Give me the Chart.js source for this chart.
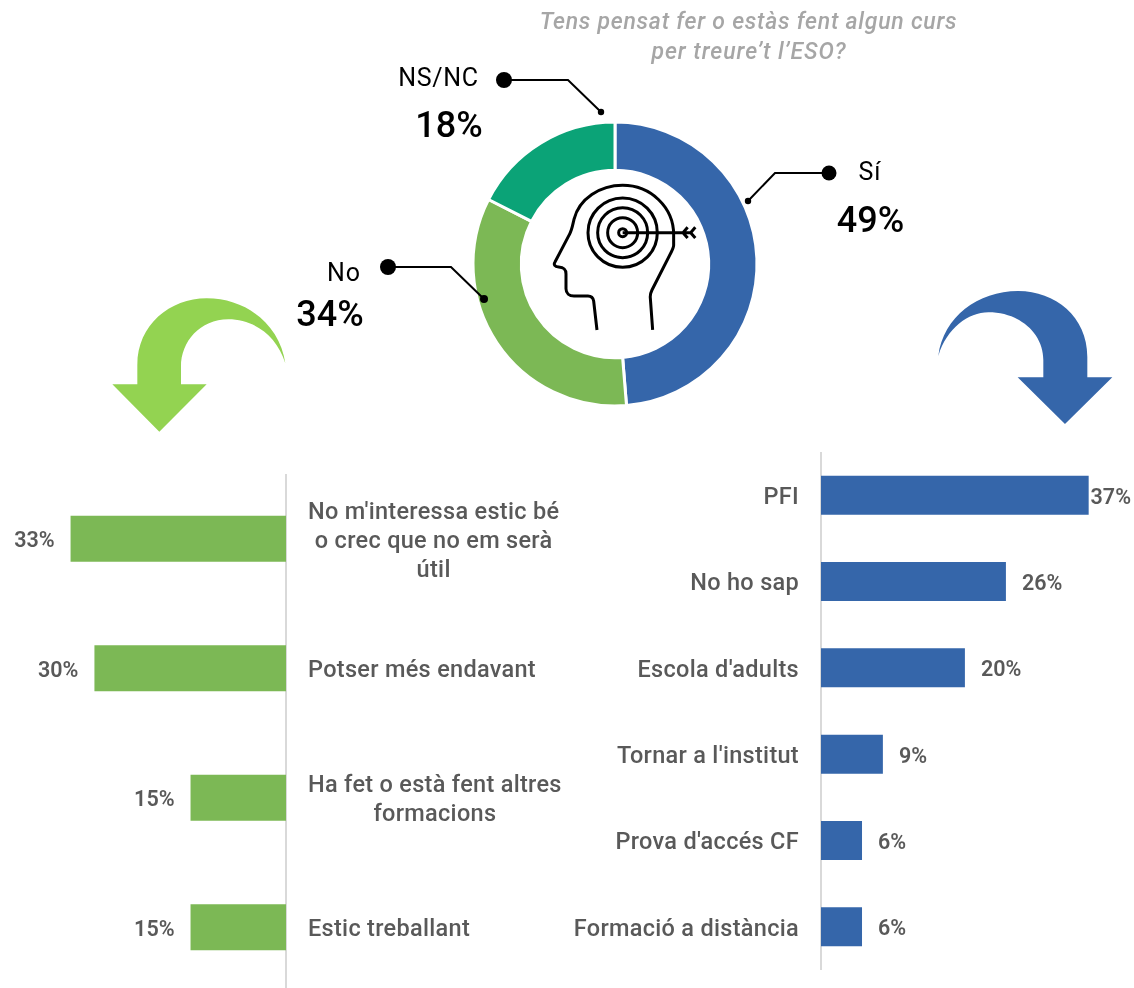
<!DOCTYPE html>
<html>
<head>
<meta charset="utf-8">
<script src="https://cdn.jsdelivr.net/npm/chart.js@4"></script>
<style>
html,body{margin:0;padding:0;background:#fff;overflow:hidden;width:1134px;height:988px}
#page{position:relative;width:1134px;height:988px;overflow:hidden}
.box{position:absolute}
canvas{display:block}
svg{position:absolute;left:0;top:0}
svg text{font-family:Roboto,sans-serif}
</style>
</head>
<body>
<div id="page">
  <div class="box" style="left:455px;top:104px;width:320px;height:320px"><canvas id="donut"></canvas></div>
  <div class="box" style="left:-2px;top:474px;width:590px;height:518px"><canvas id="left"></canvas></div>
  <div class="box" style="left:560px;top:452px;width:574px;height:518px"><canvas id="right"></canvas></div>
  <svg id="ov" width="1134" height="988" xmlns="http://www.w3.org/2000/svg">
    <path fill="#93d351" transform="translate(100,285) scale(.3333)" d="M178 440 L37 298 L112 298 L112 240 C112 120 210 40 320 40 C440 40 540 120 556 235 C530 150 460 103 385 103 C300 103 243 170 243 245 L243 298 L320 298 Z"/>
    <path fill="#3566aa" transform="translate(925,280) scale(.3333)" d="M420 432 L562 292 L487 292 L487 230 C487 110 390 33 280 33 C160 33 55 110 40 228 C65 145 130 97 190 97 C285 97 355 160 355 240 L355 292 L278 292 Z"/>
    <g transform="translate(460,100) scale(.3333)" fill="none" stroke="#000" stroke-width="9" stroke-linejoin="round">
      <path d="M411 690 L401 603 C399 592 392 588 384 588 L342 588 C328 588 318 580 318 566 L318 522 C318 506 310 502 296 501 C284 500 280 494 285 486 L328 404 C336 390 338 375 342 358 C358 296 420 256 488 256 C572 256 641 322 641 404 L641 436 C641 442 638 448 634 456 L576 570 C572 578 570 584 571 594 L578 690"/>
      <circle cx="488" cy="398" r="104"/>
      <circle cx="488" cy="398" r="75"/>
      <circle cx="488" cy="398" r="45"/>
      <circle cx="488" cy="398" r="12"/>
      <path d="M488 398 L696 398 M683 382 L669 398 L683 414 M706 382 L692 398 L706 414"/>
    </g>
    <g fill="none" stroke="#000" stroke-width="2">
      <path d="M829 173 L775 173 L748 201"/>
      <path d="M504 80 L568 80 L601 112"/>
      <path d="M388 267 L451 267 L484 299"/>
    </g>
    <g fill="#000">
      <circle cx="829" cy="173" r="7.5"/><circle cx="748" cy="201" r="3.2"/>
      <circle cx="504" cy="80" r="8"/><circle cx="601" cy="112" r="3.2"/>
      <circle cx="388" cy="267" r="8"/><circle cx="484" cy="299" r="4"/>
    </g>
  </svg>
</div>
<script>
const donutCategories = ['Sí', 'No', 'NS/NC'];
const donutValues = [49, 34, 17.6];
const donutColors = ['#3566aa', '#7cb855', '#0ba377'];

const leftCategories = [["No m'interessa estic bé", 'o crec que no em serà', 'útil'], 'Potser més endavant', ['Ha fet o està fent altres', 'formacions'], 'Estic treballant'];
const leftValues = [33.4, 29.7, 14.8, 14.8];

const rightCategories = ['PFI', 'No ho sap', "Escola d'adults", "Tornar a l'institut", "Prova d'accés CF", 'Formació a distància'];
const rightValues = [37.2, 25.7, 20, 8.6, 5.7, 5.7];

const titleLines = ['Tens pensat fer o estàs fent algun curs', 'per treure’t l’ESO?'];

const FONT = 'Roboto, sans-serif';
const GREY = '#595959';
Chart.defaults.animation = false;
Chart.defaults.font.family = FONT;

const valueLabels = {
  id: 'valueLabels',
  afterDatasetsDraw(chart, args, opts) {
    const { ctx } = chart;
    const vals = chart.data.datasets[0].data;
    ctx.save();
    ctx.letterSpacing = '0px';
    ctx.font = '600 21.5px ' + FONT;
    ctx.fillStyle = GREY;
    ctx.textBaseline = 'middle';
    chart.getDatasetMeta(0).data.forEach((bar, i) => {
      const t = Math.round(vals[i]) + '%';
      if (opts.side === 'left') {
        ctx.textAlign = 'right';
        ctx.fillText(t, bar.x - 16, bar.y + 3);
      } else {
        ctx.textAlign = 'left';
        const w = ctx.measureText(t).width;
        ctx.fillText(t, Math.min(bar.x + 16, chart.width - w - 3), bar.y + 3);
      }
    });
    ctx.restore();
  }
};

const centerWrapped = {
  id: 'centerWrapped',
  beforeDraw(chart) {
    const s = chart.scales.y;
    const { ctx } = chart;
    ctx.letterSpacing = '0.3px';
    s.getLabelItems(chart.chartArea).forEach(it => {
      if (!Array.isArray(it.label) || it.options.__done) return;
      ctx.save();
      ctx.font = it.font.string;
      const w = Math.max(...it.label.map(l => ctx.measureText(l).width));
      ctx.restore();
      it.options.textAlign = 'center';
      it.options.translation = [it.options.translation[0] + w / 2, it.options.translation[1]];
      it.options.__done = true;
    });
  }
};

new Chart(document.getElementById('donut'), {
  type: 'doughnut',
  data: { labels: donutCategories, datasets: [{ data: donutValues, backgroundColor: donutColors, borderColor: '#fff', borderWidth: 3 }] },
  options: {
    responsive: true, maintainAspectRatio: false, radius: 142, cutout: '66%',
    plugins: { legend: { display: false }, tooltip: { enabled: false } }
  }
});

function barChart(id, cats, vals, color, side, xMax, yWidth, thickness) {
  new Chart(document.getElementById(id), {
    type: 'bar',
    data: { labels: cats, datasets: [{ data: vals, backgroundColor: color, categoryPercentage: 1, barPercentage: thickness }] },
    plugins: [valueLabels, centerWrapped],
    options: {
      indexAxis: 'y', responsive: true, maintainAspectRatio: false,
      layout: { padding: 0 },
      scales: {
        x: { min: 0, max: xMax, reverse: side === 'left', display: false },
        y: {
          position: side === 'left' ? 'right' : 'left',
          grid: { display: false, drawTicks: false },
          border: { display: true, color: '#d9d9d9', width: 2 },
          ticks: { color: GREY, font: { size: 23.5, weight: 500, lineHeight: 29 / 23.5 }, padding: 22, labelOffset: 3, autoSkip: false, crossAlign: 'near' },
          afterFit(scale) { scale.width = yWidth; scale.paddingTop = 0; scale.paddingBottom = 0; }
        }
      },
      plugins: { legend: { display: false }, tooltip: { enabled: false }, valueLabels: { side } }
    }
  });
}
barChart('left', leftCategories, leftValues, '#7cb855', 'left', 44.65, 302, 0.356);
barChart('right', rightCategories, rightValues, '#3566aa', 'right', 43.5, 261, 0.452);

const NS = 'http://www.w3.org/2000/svg';
const ov = document.getElementById('ov');
function txt(s, x, y, size, fill, extra, spacing) {
  const t = document.createElementNS(NS, 'text');
  t.textContent = s;
  t.setAttribute('x', x); t.setAttribute('y', y);
  t.setAttribute('font-size', size); t.setAttribute('fill', fill);
  t.setAttribute('text-anchor', 'middle');
  t.style.letterSpacing = spacing;
  Object.entries(extra || {}).forEach(([k, v]) => t.setAttribute(k, v));
  ov.appendChild(t);
}
const ital = { 'font-style': 'italic', 'font-weight': 500 };
txt(titleLines[0], 748.5, 29, 23, '#a6a6a6', ital, '0.75px');
txt(titleLines[1], 749, 59, 23, '#a6a6a6', ital, '0.95px');
txt(donutCategories[0], 870, 180, 25, '#000', null, '1px');
txt(Math.round(donutValues[0]) + '%', 870.5, 232, 36, '#000', { 'font-weight': 500 }, '0');
txt(donutCategories[1], 344, 281, 25, '#000', null, '1px');
txt(Math.round(donutValues[1]) + '%', 330, 326, 36, '#000', { 'font-weight': 500 }, '0');
txt(donutCategories[2], 438.5, 86, 25, '#000', null, '0.7px');
txt(Math.round(donutValues[2]) + '%', 449, 137, 36, '#000', { 'font-weight': 500 }, '0');
</script>
</body>
</html>
